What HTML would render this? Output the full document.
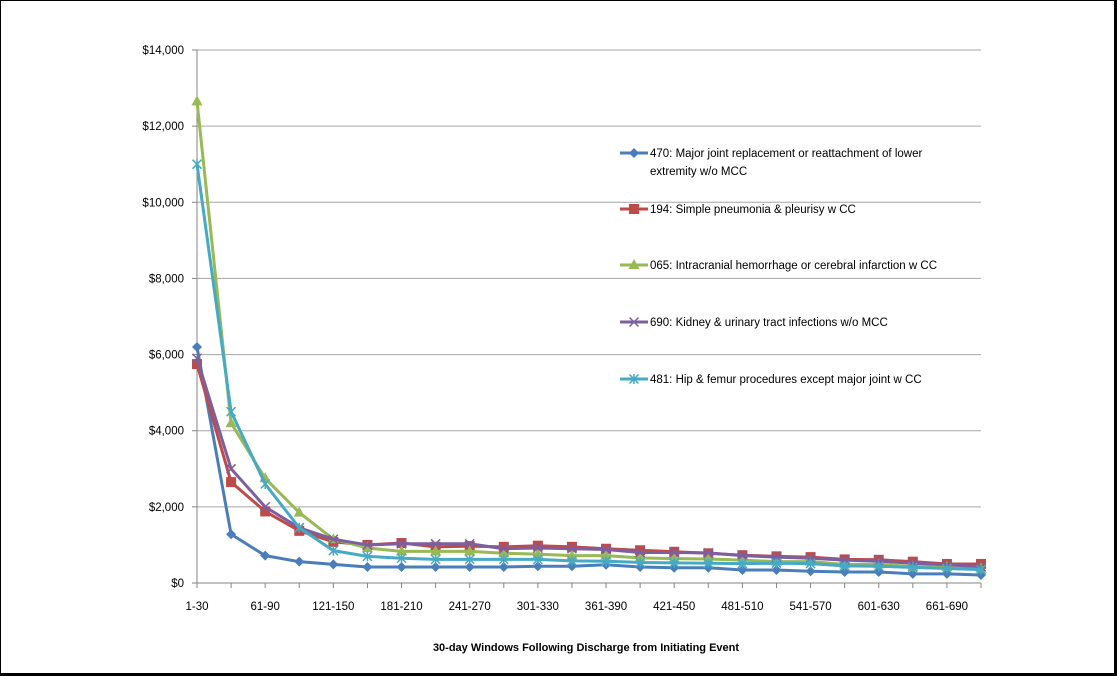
<!DOCTYPE html>
<html><head><meta charset="utf-8"><style>
body{margin:0;background:#fff}
#wrap{position:absolute;left:0;top:0;width:1113px;height:672px;border-left:1px solid #000;border-top:1px solid #000;border-right:3px solid #000;border-bottom:3px solid #000;background:#fff}
svg{position:absolute;left:0;top:0}
text{font-family:"Liberation Sans",sans-serif;fill:#000}
</style></head><body>
<div id="wrap"></div>
<svg id="chart" width="1117" height="676"></svg>
<script>
const categories=["1-30","31-60","61-90","91-120","121-150","151-180","181-210","211-240","241-270","271-300","301-330","331-360","361-390","391-420","421-450","451-480","481-510","511-540","541-570","571-600","601-630","631-660","661-690","691-720"];
const yTicks=[0,2000,4000,6000,8000,10000,12000,14000];
const s470=[6200,1280,720,560,490,420,420,420,420,420,440,440,480,420,400,400,340,340,310,290,290,240,240,210];
const s194=[5750,2650,1880,1370,1080,1000,1050,950,970,950,980,950,900,860,820,780,730,700,680,620,610,560,500,500];
const s065=[12650,4200,2750,1850,1150,920,830,830,830,780,760,720,720,660,640,630,600,560,560,490,490,430,420,380];
const s690=[5900,3000,2000,1450,1150,1000,1030,1030,1030,900,920,900,880,800,800,790,720,680,650,600,570,520,480,430];
const s481=[11000,4500,2600,1450,850,700,650,620,620,620,620,580,570,540,530,520,510,520,510,450,440,410,380,350];
const seriesNames=["470: Major joint replacement or reattachment of lower|extremity w/o MCC","194: Simple pneumonia & pleurisy w CC","065: Intracranial hemorrhage or cerebral infarction w CC","690: Kidney & urinary tract infections w/o MCC","481: Hip & femur procedures except major joint w CC"];

const svg=document.getElementById('chart');
const NS='http://www.w3.org/2000/svg';
const X0=197,X1=981,Y0=583,Y1=50,YMAX=14000;
const x=i=>X0+i*(X1-X0)/(categories.length-1);
const y=v=>Y0-v*(Y0-Y1)/YMAX;
function mk(tag,attrs,parent){const e=document.createElementNS(NS,tag);for(const k in attrs)e.setAttribute(k,attrs[k]);(parent||svg).appendChild(e);return e;}

yTicks.forEach(t=>{
  if(t>0){const g=mk('line',{x1:X0,x2:X1,y1:y(t),y2:y(t),stroke:'#a6a6a6','stroke-width':1});
  
  }
  mk('line',{x1:X0-5,x2:X0,y1:y(t),y2:y(t),stroke:'#868686'});
  const tx=mk('text',{x:184,y:y(t)+4,'text-anchor':'end','font-size':11.5});
  tx.textContent='$'+t.toLocaleString('en-US');
  
  
});
mk('line',{x1:X0,x2:X0,y1:Y1,y2:Y0,stroke:'#868686'});
mk('line',{x1:X0,x2:X1,y1:Y0,y2:Y0,stroke:'#868686'});
categories.forEach((c,i)=>{
  mk('line',{x1:x(i),x2:x(i),y1:Y0,y2:Y0+5,stroke:'#868686'});
  if(i%2===0){const tx=mk('text',{x:x(i),y:610,'text-anchor':'middle','font-size':11.5});
  tx.textContent=c;
  
  }
});
const xt=mk('text',{x:586,y:651,'text-anchor':'middle','font-size':11,'font-weight':'bold'});
xt.textContent='30-day Windows Following Discharge  from Initiating Event';



const colors=['#4a7ebb','#be4b48','#98b954','#7d5fa0','#46aac5'];
const shapes=['diamond','square','triangle','x','star'];
function marker(g,shape,cx,cy,col){
  if(shape==='diamond')mk('path',{d:`M${cx} ${cy-5}L${cx+5} ${cy}L${cx} ${cy+5}L${cx-5} ${cy}Z`,fill:col},g);
  else if(shape==='square')mk('rect',{x:cx-5,y:cy-5,width:10,height:10,fill:col},g);
  else if(shape==='triangle')mk('path',{d:`M${cx} ${cy-6}L${cx+5.5} ${cy+4}L${cx-5.5} ${cy+4}Z`,fill:col},g);
  else if(shape==='x')mk('path',{d:`M${cx-4.5} ${cy-4.5}L${cx+4.5} ${cy+4.5}M${cx+4.5} ${cy-4.5}L${cx-4.5} ${cy+4.5}`,stroke:col,'stroke-width':1.5},g);
  else mk('path',{d:`M${cx-4.5} ${cy-4.5}L${cx+4.5} ${cy+4.5}M${cx+4.5} ${cy-4.5}L${cx-4.5} ${cy+4.5}M${cx} ${cy-5}L${cx} ${cy+5}`,stroke:col,'stroke-width':1.5},g);
}
const allSeries=[s470,s194,s065,s690,s481];
allSeries.forEach((s,k)=>{
  const g=mk('g',{});
  
  
  mk('polyline',{points:s.map((v,i)=>x(i)+','+y(v)).join(' '),fill:'none',stroke:colors[k],'stroke-width':3,'stroke-linejoin':'round'},g);
  s.forEach((v,i)=>marker(g,shapes[k],x(i),y(v),colors[k]));
});
const legY=[153,209,265,322,379];
seriesNames.forEach((n,k)=>{
  const g=mk('g',{});
  
  
  mk('line',{x1:620,x2:648,y1:legY[k],y2:legY[k],stroke:colors[k],'stroke-width':3},g);
  marker(g,shapes[k],634,legY[k],colors[k]);
  n.split('|').forEach((line,j)=>{
    const t=mk('text',{x:650,y:legY[k]+4+j*18,'font-size':11.5},g);
    t.textContent=line;
  });
});
</script>
</body></html>
